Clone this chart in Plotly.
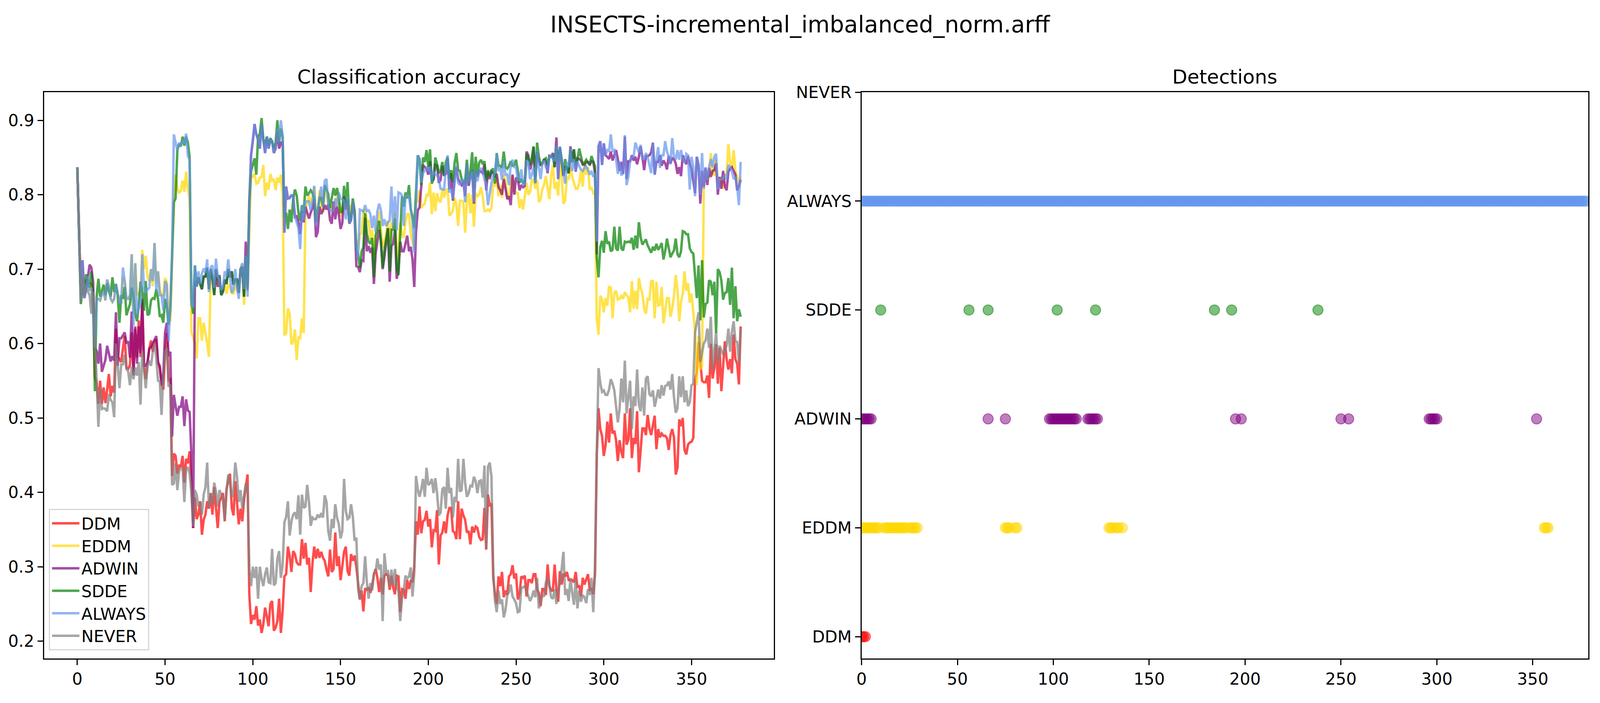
import plotly.graph_objects as go

# ---------------- data ----------------
DDM = [
.837, .74, .665, .685, .68, .685, .685, .68, .68, .67,
.556, .547, .519, .55, .519, .541, .52, .538, .559, .529,
.543, .534, .62, .583, .579, .575, .594, .61, .567, .566,
.571, .615, .562, .62, .581, .631, .582, .657, .57, .552,
.573, .593, .604, .589, .603, .606, .573, .567, .546, .538,
.589, .614, .549, .554, .422, .452, .449, .425, .437, .434,
.449, .413, .445, .439, .455, .416, .352, .393, .364, .37,
.388, .343, .363, .37, .388, .378, .399, .37, .407, .381,
.352, .387, .393, .399, .361, .404, .416, .425, .379, .369,
.415, .381, .357, .378, .361, .39, .407, .424, .263, .223,
.235, .229, .247, .221, .229, .211, .223, .245, .233, .22,
.25, .254, .214, .218, .227, .257, .211, .241, .287, .29,
.327, .315, .293, .321, .317, .306, .303, .303, .337, .311,
.332, .303, .312, .266, .305, .327, .311, .324, .312, .32,
.312, .308, .296, .287, .323, .293, .297, .346, .301, .314,
.282, .3, .32, .327, .294, .288, .317, .308, .315, .3,
.276, .256, .268, .24, .271, .269, .272, .265, .274, .29,
.297, .285, .266, .285, .263, .288, .29, .288, .269, .288,
.272, .263, .288, .287, .239, .27, .269, .257, .282, .27,
.282, .279, .3, .361, .343, .381, .345, .361, .363, .375,
.354, .364, .326, .349, .348, .376, .303, .342, .346, .361,
.345, .369, .379, .379, .348, .346, .337, .388, .337, .378,
.369, .363, .346, .348, .33, .354, .346, .354, .352, .34,
.336, .337, .379, .323, .397, .381, .385, .285, .263, .25,
.287, .274, .293, .259, .268, .262, .287, .29, .302, .284,
.291, .256, .263, .287, .285, .288, .26, .282, .282, .278,
.29, .29, .269, .265, .247, .27, .27, .262, .303, .274,
.268, .268, .303, .27, .253, .294, .276, .291, .287, .293,
.282, .282, .282, .279, .293, .272, .275, .26, .285, .276,
.284, .29, .269, .27, .263, .29, .45, .513, .485, .476,
.449, .463, .495, .467, .506, .479, .483, .47, .442, .47,
.454, .446, .506, .464, .471, .513, .446, .473, .465, .509,
.427, .454, .486, .486, .477, .504, .486, .477, .492, .503,
.458, .485, .474, .479, .476, .476, .473, .457, .477, .485,
.474, .424, .433, .498, .489, .5, .457, .451, .464, .467,
.468, .473, .55, .562, .602, .575, .55, .548, .548, .557,
.527, .6, .553, .567, .599, .546, .594, .536, .567, .603,
.579, .565, .579, .56, .612, .579, .573, .545, .623,
]

EDDM = [
.837, .745, .66, .7, .665, .673, .685, .671, .68, .645,
.6, .661, .66, .658, .666, .67, .658, .686, .677, .66,
.656, .66, .68, .668, .655, .655, .69, .684, .66, .66,
.665, .72, .64, .708, .665, .669, .66, .726, .7, .718,
.689, .684, .7, .677, .735, .681, .697, .673, .665, .665,
.688, .683, .64, .63, .72, .79, .827, .808, .802, .806,
.819, .804, .831, .808, .794, .616, .608, .6, .58, .634,
.634, .604, .628, .615, .6, .582, .687, .69, .675, .68,
.688, .685, .672, .675, .68, .667, .68, .675, .668, .667,
.673, .682, .668, .7, .706, .652, .71, .67, .76, .827,
.823, .828, .815, .816, .823, .824, .84, .798, .816, .807,
.828, .819, .821, .806, .823, .816, .827, .8, .611, .614,
.647, .641, .599, .602, .619, .578, .608, .607, .634, .614,
.779, .791, .799, .789, .795, .811, .774, .766, .806, .788,
.776, .804, .8, .789, .779, .784, .779, .782, .803, .79,
.771, .776, .79, .782, .784, .769, .787, .776, .779, .734,
.726, .747, .748, .779, .779, .763, .766, .74, .753, .718,
.742, .763, .778, .753, .729, .737, .747, .765, .737, .763,
.756, .776, .712, .724, .762, .747, .742, .763, .774, .774,
.747, .737, .726, .792, .791, .806, .782, .786, .788, .8,
.799, .816, .774, .803, .778, .802, .792, .79, .807, .796,
.806, .808, .772, .774, .779, .796, .787, .758, .792, .792,
.79, .749, .794, .802, .775, .8, .757, .802, .798, .8,
.81, .798, .778, .778, .78, .778, .782, .817, .811, .824,
.798, .813, .796, .827, .819, .796, .794, .821, .825, .804,
.803, .802, .782, .794, .78, .798, .816, .8, .804, .82,
.82, .808, .82, .79, .794, .808, .813, .825, .81, .794,
.825, .84, .808, .817, .799, .843, .824, .788, .792, .824,
.82, .837, .824, .815, .808, .808, .815, .833, .811, .843,
.827, .837, .807, .81, .802,
.803, .634, .612, .664, .66, .642, .661, .651, .677, .675,
.634, .668, .671, .659, .66, .664, .66, .669, .665, .662,
.642, .684, .647, .671, .646, .688, .675, .667, .647, .64,
.66, .659, .684, .684, .634, .683, .651, .652, .676, .627,
.644, .661, .661, .636, .647, .664, .692, .671, .63, .656,
.667, .697, .671, .681, .655, .667, .642, .615, .544, .61,
.565, .57, .811, .826, .824, .822, .856, .827, .827, .847,
.816, .816, .824, .808, .827, .829, .868, .843, .835, .86,
.832, .824, .815, .824,
]

ADWIN = [
.837, .75, .665, .712, .661, .672, .688, .706, .702, .683,
.594, .59, .573, .6, .562, .571, .578, .597, .587, .576,
.583, .577, .642, .57, .607, .607, .611, .615, .6, .603,
.581, .643, .557, .623, .573, .623, .587, .66, .57, .57,
.575, .593, .595, .6, .606, .61, .575, .57, .544, .56,
.615, .628, .583, .589, .475, .531, .516, .503, .515, .515,
.529, .489, .525, .51, .508, .45, .352, .684, .677, .689,
.68, .673, .69, .69, .702, .673, .7, .689, .665, .7,
.676, .692, .665, .67, .686, .68, .7, .689, .697, .679,
.686, .686, .668, .7, .703, .663, .737, .672, .79, .853,
.872, .895, .881, .874, .862, .895, .874, .856, .878, .862,
.874, .872, .856, .862, .885, .862, .87, .87, .749, .811,
.795, .796, .799, .799, .77, .771, .762, .747, .778, .763,
.784, .776, .768, .776, .782, .794, .743, .75, .784, .774,
.779, .786, .78, .787, .766, .761, .791, .767, .784, .774,
.754, .762, .798, .78, .794, .761, .767, .79, .774, .704,
.703, .696, .712, .711, .769, .724, .731, .722, .729, .68,
.721, .737, .753, .737, .7, .716, .737, .755, .683, .731,
.734, .753, .687, .698, .737, .724, .724, .734, .745, .724,
.73, .713, .676, .75, .779, .783, .812, .84, .837, .835,
.827, .845, .819, .821, .84, .839, .816, .82, .839, .827,
.828, .849, .807, .829, .792, .824, .837, .821, .817, .813,
.817, .798, .841, .812, .824, .833, .788, .832, .824, .832,
.831, .829, .841, .806, .831, .821, .831, .829, .824, .828,
.81, .806, .8, .821, .808, .794, .798, .786, .827, .8,
.823, .821, .806, .813, .81, .812, .858, .853, .834, .842,
.864, .821, .858, .845, .839, .842, .848, .844, .829, .852,
.851, .856, .837, .877, .821, .864, .847, .825, .837, .837,
.829, .865, .845, .861, .831, .849, .848, .846, .841, .84,
.844, .844, .84, .845, .844,
.829, .72, .865, .872, .84, .869, .853, .851, .848, .858,
.846, .853, .86, .848, .832, .844, .828, .878, .821, .845,
.845, .853, .846, .851, .841, .851, .865, .851, .833, .852,
.852, .853, .857, .87, .827, .844, .844, .853, .839, .846,
.842, .834, .852, .842, .849, .848, .842, .828, .837, .825,
.853, .846, .841, .852, .841, .835, .816, .802, .851, .84,
.788, .832, .811, .836, .813, .836, .824, .832, .833, .842,
.8, .824, .808, .832, .811, .806, .831, .835, .837, .832,
.827, .806, .811, .82,
]

SDDE = [
.837, .75, .653, .675, .67, .693, .68, .675, .697, .66,
.536, .663, .687, .663, .67, .679, .665, .681, .67, .663,
.689, .669, .68, .665, .628, .665, .66, .676, .638, .645,
.653, .675, .665, .64, .63, .65, .683, .671, .644, .684,
.638, .64, .658, .661, .66, .673, .66, .636, .638, .628,
.66, .65, .625, .647, .72, .79, .795, .86, .868, .865,
.878, .866, .878, .87, .85, .66, .64, .705, .677, .689,
.68, .673, .69, .69, .702, .673, .7, .689, .665, .7,
.686, .689, .665, .67, .686, .68, .7, .689, .697, .679,
.686, .686, .668, .7, .703, .663, .718, .675, .79, .832,
.84, .849, .827, .878, .882, .903, .874, .868, .878, .866,
.876, .871, .862, .87, .9, .87, .889, .878, .769, .776,
.754, .78, .763, .794, .807, .799, .776, .765, .786, .776,
.811, .799, .802, .806, .802, .795, .763, .778, .796, .796,
.784, .813, .806, .801, .782, .798, .809, .799, .809, .796,
.776, .778, .812, .784, .817, .763, .768, .795, .778, .726,
.72, .702, .724, .729, .775, .747, .737, .734, .742, .689,
.745, .755, .765, .737, .702, .726, .742, .755, .697, .753,
.753, .768, .7, .692, .745, .798, .784, .803, .795, .813,
.78, .771, .755, .8, .853, .848, .813, .85, .844, .86,
.837, .861, .815, .821, .85, .841, .829, .832, .844, .825,
.844, .851, .821, .833, .817, .843, .856, .833, .832, .821,
.817, .817, .847, .816, .832, .857, .808, .851, .826, .843,
.847, .841, .845, .819, .833, .824, .833, .835, .815, .856,
.839, .839, .836, .858, .837, .835, .839, .845, .839, .84,
.847, .832, .816, .821, .816, .817, .855, .85, .84, .85,
.865, .816, .87, .851, .84, .843, .847, .849, .84, .852,
.851, .853, .837, .866, .845, .863, .845, .827, .848, .833,
.829, .862, .843, .861, .84, .847, .862, .851, .841, .843,
.847, .843, .841, .852, .845,
.838, .716, .689, .73, .738, .722, .751, .734, .737, .724,
.726, .757, .728, .725, .757, .728, .725, .737, .736, .737,
.736, .742, .726, .745, .728, .763, .743, .733, .737, .74,
.732, .726, .722, .73, .725, .734, .726, .73, .735, .713,
.724, .741, .728, .716, .721, .725, .741, .72, .716, .724,
.751, .75, .747, .747, .728, .723, .721, .69, .661, .705,
.631, .712, .635, .653, .655, .685, .683, .665, .683, .614,
.7, .696, .685, .659, .668, .669, .688, .652, .702, .634,
.677, .63, .646, .636,
]

ALWAYS = [
.837, .745, .66, .712, .661, .673, .69, .671, .675, .639,
.594, .661, .66, .658, .666, .67, .658, .686, .677, .66,
.656, .66, .68, .668, .655, .655, .702, .684, .66, .66,
.665, .72, .624, .708, .639, .647, .655, .72, .675, .67,
.673, .675, .7, .684, .735, .671, .697, .665, .665, .645,
.684, .679, .603, .65, .72, .881, .87, .86, .87, .866,
.873, .869, .882, .852, .847, .651, .65, .705, .676, .697,
.68, .694, .701, .695, .713, .669, .702, .705, .675, .714,
.69, .685, .672, .675, .697, .69, .713, .69, .668, .673,
.7, .675, .66, .7, .708, .673, .718, .663, .779, .853,
.872, .895, .881, .874, .862, .895, .874, .856, .878, .862,
.874, .872, .856, .862, .888, .87, .9, .878, .749, .811,
.795, .795, .799, .799, .771, .762, .755, .727, .786, .765,
.791, .791, .791, .779, .791, .812, .758, .779, .796, .811,
.784, .819, .821, .785, .779, .778, .779, .795, .784, .803,
.795, .793, .792, .767, .797, .762, .765, .79, .77, .729,
.715, .78, .779, .777, .786, .778, .779, .774, .755, .772,
.75, .778, .788, .779, .758, .767, .758, .763, .765, .811,
.756, .798, .752, .803, .802, .799, .758, .797, .799, .798,
.778, .765, .722, .79, .853, .848, .816, .829, .833, .836,
.832, .838, .819, .831, .827, .826, .821, .808, .808, .806,
.837, .853, .803, .808, .794, .821, .839, .816, .813, .819,
.82, .79, .841, .816, .824, .832, .79, .832, .818, .832,
.836, .83, .821, .813, .786, .8, .816, .824, .831, .855,
.832, .836, .82, .845, .827, .827, .813, .841, .847, .837,
.837, .82, .82, .834, .813, .814, .845, .844, .821, .827,
.837, .815, .86, .837, .821, .842, .846, .837, .832, .851,
.853, .848, .845, .866, .821, .865, .848, .829, .815, .844,
.837, .862, .832, .848, .832, .845, .838, .834, .832, .836,
.838, .833, .827, .832, .824,
.829, .737, .865, .872, .84, .869, .853, .86, .858, .881,
.858, .86, .848, .828, .845, .826, .829, .88, .813, .824,
.845, .851, .851, .87, .863, .857, .867, .848, .848, .856,
.851, .84, .829, .87, .827, .848, .864, .836, .853, .853,
.872, .858, .851, .841, .876, .851, .847, .86, .847, .86,
.849, .843, .855, .853, .807, .851, .837, .798, .851, .84,
.8, .856, .808, .837, .82, .837, .848, .837, .851, .855,
.807, .821, .821, .821, .827, .821, .84, .837, .832, .821,
.824, .811, .786, .844,
]

NEVER = [
.837, .745, .655, .69, .665, .675, .67, .665, .64, .67,
.6, .553, .488, .541, .512, .513, .512, .509, .532, .524,
.521, .501, .6, .565, .54, .572, .572, .585, .566, .562,
.544, .569, .552, .568, .557, .575, .518, .59, .56, .54,
.57, .577, .57, .589, .6, .58, .55, .549, .504, .56,
.589, .594, .542, .545, .41, .412, .439, .403, .428, .433,
.431, .387, .431, .434, .425, .4, .354, .403, .397, .381,
.387, .37, .397, .407, .44, .378, .399, .385, .413, .401,
.381, .403, .397, .39, .363, .401, .424, .413, .393, .404,
.44, .421, .387, .403, .378, .393, .412, .407, .297, .274,
.3, .285, .3, .257, .3, .284, .274, .29, .299, .279,
.278, .324, .275, .278, .311, .321, .285, .303, .36, .367,
.388, .342, .361, .37, .373, .364, .396, .343, .397, .379,
.381, .41, .387, .355, .366, .364, .364, .37, .366, .372,
.366, .396, .387, .348, .335, .364, .352, .384, .366, .357,
.338, .348, .418, .375, .364, .366, .384, .367, .335, .339,
.27, .256, .274, .278, .314, .279, .257, .278, .268, .291,
.293, .311, .296, .303, .227, .318, .293, .294, .274, .296,
.275, .297, .272, .268, .227, .257, .269, .288, .284, .287,
.299, .26, .291, .422, .404, .394, .404, .418, .394, .433,
.41, .412, .418, .399, .419, .399, .369, .373, .404, .407,
.378, .433, .399, .406, .366, .394, .387, .445, .401, .403,
.445, .413, .394, .399, .409, .408, .421, .415, .399, .415,
.416, .393, .436, .324, .434, .44, .421, .294, .254, .239,
.268, .25, .256, .232, .242, .262, .266, .276, .26, .256,
.251, .239, .24, .272, .272, .274, .268, .26, .254, .259,
.268, .259, .285, .244, .254, .262, .26, .279, .285, .274,
.259, .257, .27, .25, .268, .279, .297, .32, .262, .27,
.254, .285, .265, .249, .283, .244, .268, .253, .262, .259,
.251, .27, .262, .285, .239, .3, .45, .567, .547, .535,
.537, .531, .531, .538, .552, .546, .537, .512, .494, .512,
.553, .521, .577, .506, .529, .55, .485, .529, .516, .565,
.518, .509, .541, .503, .553, .556, .532, .529, .537, .515,
.526, .538, .526, .544, .53, .543, .544, .549, .538, .559,
.528, .507, .513, .556, .528, .556, .521, .537, .516, .521,
.544, .546, .615, .631, .642, .575, .589, .6, .604, .62,
.594, .636, .565, .594, .616, .573, .597, .591, .585, .591,
.597, .62, .589, .615, .63, .603, .602, .574, .62,
]

# drift detections (sample indices)
DET_DDM = [0, 1, 2]
DET_EDDM = [0, 1, 2, 3, 4, 5, 6, 7, 8, 9, 12, 13, 14, 15, 16, 17, 18, 19, 20, 21, 22, 23,
            25, 26, 27, 28, 29, 75, 76, 77, 80, 81, 129, 130, 131, 133, 134, 136, 356, 357, 358]
DET_ADWIN = [0, 1, 2, 3, 4, 5, 66, 75, 98, 99, 100, 101, 102, 103, 104, 105, 106, 107, 108,
             109, 110, 111, 112, 118, 119, 120, 121, 122, 123, 195, 198, 250, 254,
             296, 297, 298, 299, 300, 352]
DET_SDDE = [10, 56, 66, 102, 122, 184, 193, 238]
DET_NEVER = []

METHODS = ["DDM", "EDDM", "ADWIN", "SDDE", "ALWAYS", "NEVER"]
X_TICKS = [0, 50, 100, 150, 200, 250, 300, 350]
Y_TICKS = [0.2, 0.3, 0.4, 0.5, 0.6, 0.7, 0.8, 0.9]

series = {"DDM": DDM, "EDDM": EDDM, "ADWIN": ADWIN, "SDDE": SDDE, "ALWAYS": ALWAYS, "NEVER": NEVER}
for k, v in series.items():
    if len(v) != len(DDM):
        raise ValueError("length mismatch %s %d vs %d" % (k, len(v), len(DDM)))

n = len(DDM)
steps = list(range(n))
DET_ALWAYS = list(range(n))  # ALWAYS flags a drift at every step
detections = {"DDM": DET_DDM, "EDDM": DET_EDDM, "ADWIN": DET_ADWIN,
              "SDDE": DET_SDDE, "ALWAYS": DET_ALWAYS, "NEVER": DET_NEVER}

RGB = {"DDM": (255, 0, 0), "EDDM": (255, 215, 0), "ADWIN": (128, 0, 128),
       "SDDE": (0, 128, 0), "ALWAYS": (100, 149, 237), "NEVER": (128, 128, 128)}


def rgba(name, a):
    r, g, b = RGB[name]
    return "rgba(%d,%d,%d,%.2f)" % (r, g, b, a)


FONT = "DejaVu Sans"
fig = go.Figure()

for m in METHODS:
    fig.add_trace(go.Scatter(x=steps, y=series[m], mode="lines", name=m,
                             line=dict(color=rgba(m, 0.7), width=6.25),
                             xaxis="x", yaxis="y"))

for lvl, m in enumerate(METHODS):
    idx = detections[m]
    if not idx:
        continue
    fig.add_trace(go.Scatter(x=idx, y=[lvl] * len(idx), mode="markers", showlegend=False,
                             marker=dict(size=26, color=rgba(m, 0.5),
                                         line=dict(color=rgba(m, 0.5), width=2.5)),
                             xaxis="x2", yaxis="y2"))

axis_common = dict(showline=True, mirror=True, linecolor="black", linewidth=3,
                   ticks="outside", ticklen=14, tickwidth=3, tickcolor="black",
                   showgrid=False, zeroline=False,
                   tickfont=dict(family=FONT, size=42, color="black"))

XDOM1 = [0.0245, 0.4820]
XDOM2 = [0.5370, 0.9927]
YDOM = [0.0642, 0.8806]
fig.update_layout(
    width=4096, height=1800,
    margin=dict(l=0, r=0, t=0, b=0),
    paper_bgcolor="white", plot_bgcolor="white",
    font=dict(family=FONT, color="black"),
    title=dict(text="INSECTS-incremental_imbalanced_norm.arff", x=0.5, xanchor="center",
               y=1 - 63 / 1800, yanchor="middle", font=dict(family=FONT, size=58, color="black")),
    xaxis=dict(domain=XDOM1, range=[-18.9, 396.9], tickvals=X_TICKS,
               anchor="y", **axis_common),
    yaxis=dict(domain=YDOM, range=[0.1767, 0.9378], tickvals=Y_TICKS,
               ticktext=["%.1f" % t for t in Y_TICKS], anchor="x", **axis_common),
    xaxis2=dict(domain=XDOM2, range=[0, n], tickvals=X_TICKS,
                anchor="y2", **axis_common),
    yaxis2=dict(domain=YDOM, range=[-0.2, 5], tickvals=list(range(len(METHODS))),
                ticktext=METHODS, anchor="x2", **axis_common),
    legend=dict(x=0.0275, y=0.076, xanchor="left", yanchor="bottom",
                bgcolor="rgba(255,255,255,0.8)", bordercolor="#d6d6d6", borderwidth=3,
                font=dict(family=FONT, size=42, color="black"), itemwidth=70),
    annotations=[
        dict(text="Classification accuracy", x=sum(XDOM1) / 2, y=1 - 175 / 1800,
             xref="paper", yref="paper", showarrow=False, xanchor="center", yanchor="middle",
             font=dict(family=FONT, size=50, color="black")),
        dict(text="Detections", x=sum(XDOM2) / 2, y=1 - 175 / 1800,
             xref="paper", yref="paper", showarrow=False, xanchor="center", yanchor="middle",
             font=dict(family=FONT, size=50, color="black")),
    ],
)

# fit the figure to the browser window that photographs it
post = ("document.body.style.margin='0';document.body.style.overflow='hidden';"
        "var gd=document.getElementById('{plot_id}');"
        "Plotly.relayout(gd,{width:window.innerWidth,height:window.innerHeight});")
fig.write_html("out.html", post_script=post, config={"displayModeBar": False})
